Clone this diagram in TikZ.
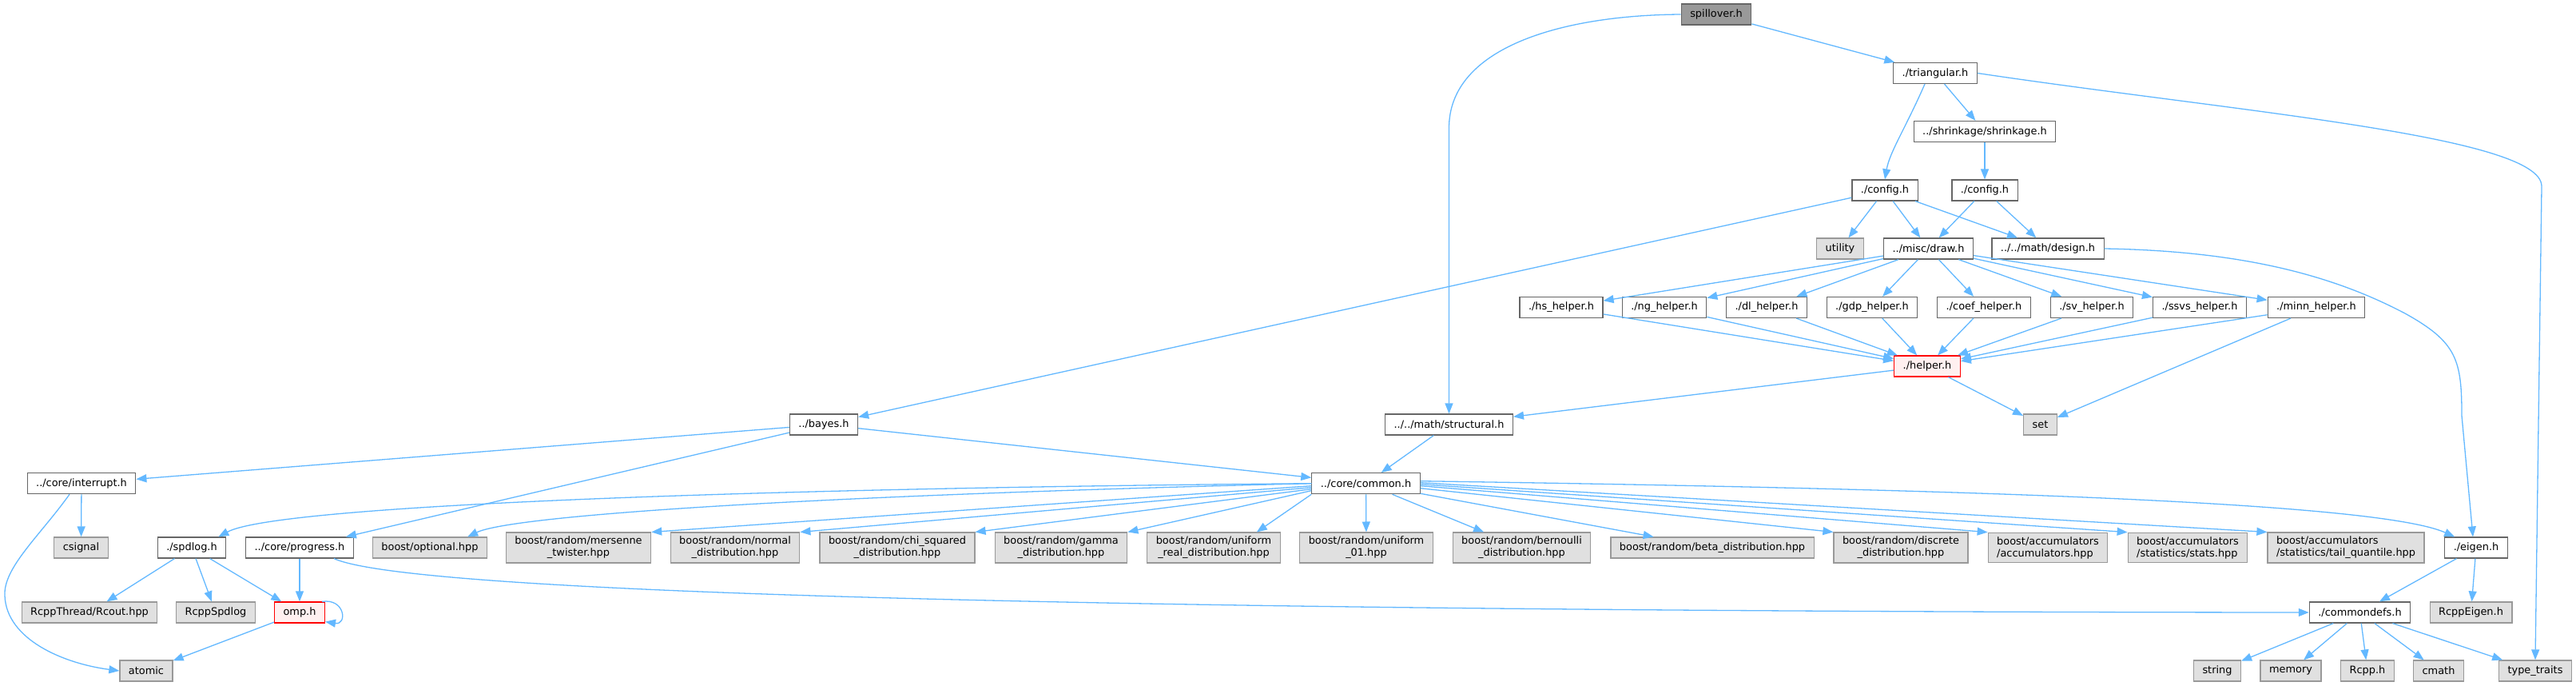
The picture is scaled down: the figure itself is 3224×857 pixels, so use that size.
\documentclass[tikz,border=0pt]{standalone}
\usepackage{fontspec}
\setmainfont{DejaVu Sans}
\usepackage{tikz}
\usetikzlibrary{arrows.meta}

\definecolor{edgeblue}{HTML}{63B8FF}
\definecolor{boxgray}{HTML}{666666}
\definecolor{extgray}{HTML}{999999}
\definecolor{extfill}{HTML}{E0E0E0}
\definecolor{rootgray}{HTML}{999999}
\definecolor{truncfill}{HTML}{FFF0F0}

\begin{document}
\begin{tikzpicture}[x=1pt, y=-1pt,
        file/.style  = {draw=boxgray, fill=white, line width=1.2pt, minimum height=26pt,
                        inner xsep=11pt, inner ysep=5pt, align=center,
                        font=\fontsize{12.9}{15}\selectfont},
        root/.style  = {file, fill=rootgray},
        ext/.style   = {file, draw=extgray, fill=extfill},
        trunc/.style = {file, draw=red, fill=truncfill},
        ar/.style    = {-{Triangle[length=13pt,width=10pt]}, line width=1.3pt, edgeblue},
    ]
        \useasboundingbox (0,0) rectangle (3224,857);

        % ---- upper part: spillover.h down to the helpers ----
        \node (spill)  [root]  at (2148,   18)   {spillover.h};
        \node (tri)    [file]  at (2422,   91.5) {./triangular.h};
        \node (shr)    [file]  at (2484,  164.5) {../shrinkage/shrinkage.h};
        \node (cfgA)   [file]  at (2359,  238)   {./config.h};
        \node (cfgB)   [file]  at (2484,  238)   {./config.h};
        \node (util)   [ext]   at (2303,  311)   {utility};
        \node (misc)   [file]  at (2413.5,311)   {../misc/draw.h};
        \node (design) [file]  at (2563,  311)   {../../math/design.h};

        \node (hs)     [file]  at (1954,  384.5) {./hs\_helper.h};
        \node (ng)     [file]  at (2083,  384.5) {./ng\_helper.h};
        \node (dl)     [file]  at (2211,  384.5) {./dl\_helper.h};
        \node (gdp)    [file]  at (2343,  384.5) {./gdp\_helper.h};
        \node (coef)   [file]  at (2483,  384.5) {./coef\_helper.h};
        \node (sv)     [file]  at (2618,  384.5) {./sv\_helper.h};
        \node (ssvs)   [file]  at (2753,  384.5) {./ssvs\_helper.h};
        \node (minn)   [file]  at (2899,  384.5) {./minn\_helper.h};

        \node (helper) [trunc] at (2412,  458)   {./helper.h};
        \node (bayes)  [file]  at (1031,  531)   {../bayes.h};
        \node (struct) [file]  at (1813.5,531)   {../../math/structural.h};
        \node (setn)   [ext]   at (2553.5,531)   {set};

        % ---- lower part: common.h and the headers it pulls in ----
        \node (intr)   [file]  at (102,   604.7) {../core/interrupt.h};
        \node (common) [file]  at (1709.5,604.7) {../core/common.h};

        \node (csig)   [ext]   at (101.5, 685)   {csignal};
        \node (spdlog) [file]  at (240,   685)   {./spdlog.h};
        \node (prog)   [file]  at (375,   685)   {../core/progress.h};
        \node (opt)    [ext]   at (538,   685)   {boost/optional.hpp};
        \node (mers)   [ext]   at (724,   685)   {boost/random/mersenne\\\_twister.hpp};
        \node (normal) [ext]   at (920,   685)   {boost/random/normal\\\_distribution.hpp};
        \node (chisq)  [ext]   at (1123,  685)   {boost/random/chi\_squared\\\_distribution.hpp};
        \node (gamma)  [ext]   at (1328,  685)   {boost/random/gamma\\\_distribution.hpp};
        \node (unirl)  [ext]   at (1519,  685)   {boost/random/uniform\\\_real\_distribution.hpp};
        \node (uni01)  [ext]   at (1710,  685)   {boost/random/uniform\\\_01.hpp};
        \node (bern)   [ext]   at (1904.5,685)   {boost/random/bernoulli\\\_distribution.hpp};
        \node (beta)   [ext]   at (2143,  685)   {boost/random/beta\_distribution.hpp};
        \node (discr)  [ext]   at (2379,  685)   {boost/random/discrete\\\_distribution.hpp};
        \node (acc)    [ext, align=left] at (2563, 685) {boost/accumulators\\/accumulators.hpp};
        \node (stats)  [ext, align=left] at (2738, 685) {boost/accumulators\\/statistics/stats.hpp};
        \node (tailq)  [ext, align=left] at (2936, 685) {boost/accumulators\\/statistics/tail\_quantile.hpp};
        \node (eigen)  [file]  at (3099,  685)   {./eigen.h};

        \node (rcout)  [ext]   at (112,   766)   {RcppThread/Rcout.hpp};
        \node (rspd)   [ext]   at (270,   766)   {RcppSpdlog};
        \node (omp)    [trunc] at (375,   766)   {omp.h};
        \node (cdefs)  [file]  at (2953.5,766)   {./commondefs.h};
        \node (reigen) [ext]   at (3092.5,766)   {RcppEigen.h};

        \node (atomic) [ext]   at (183,   839)   {atomic};
        \node (strg)   [ext]   at (2775,  839)   {string};
        \node (memo)   [ext]   at (2867,  839)   {memory};
        \node (rcpph)  [ext]   at (2963,  839)   {Rcpp.h};
        \node (cmath)  [ext]   at (3052,  839)   {cmath};
        \node (ttr)    [ext]   at (3173,  839)   {type\_traits};

        % ---- edges out of spillover.h / triangular.h ----
        \draw[ar] (spill) -- (tri);
        \draw[ar] (spill.west) .. controls (1953,19) and (1813.5,60) .. (1813.5,160) -- (struct);
        \draw[ar] ([xshift=-13pt]tri.south) .. controls (2385,160) and (2365,190) .. (cfgA.north);
        \draw[ar] (tri) -- (shr);
        \draw[ar] (tri.east) .. controls (2800,140) and (3181,170) .. (3181,233) -- (ttr.north);
        \draw[ar] (shr) -- (cfgB);

        % ---- config.h ----
        \draw[ar] (cfgA) -- (util);
        \draw[ar] (cfgA) -- (misc);
        \draw[ar] (cfgA) -- (design);
        \draw[ar] (cfgA) -- (bayes);
        \draw[ar] (cfgB) -- (misc);
        \draw[ar] (cfgB) -- (design);
        \draw[ar] (design.east) .. controls (2820,314) and (2930,350) .. (3010,392)
            .. controls (3075,428) and (3081,450) .. (3081,520) -- ([xshift=-4pt]eigen.north);

        % ---- draw.h -> helpers -> helper.h ----
        \draw[ar] (misc) -- (hs);
        \draw[ar] (misc) -- (ng);
        \draw[ar] (misc) -- (dl);
        \draw[ar] (misc) -- (gdp);
        \draw[ar] (misc) -- (coef);
        \draw[ar] (misc) -- (sv);
        \draw[ar] (misc) -- (ssvs);
        \draw[ar] (misc) -- (minn);
        \draw[ar] (hs) -- (helper);
        \draw[ar] (ng) -- (helper);
        \draw[ar] (dl) -- (helper);
        \draw[ar] (gdp) -- (helper);
        \draw[ar] (coef) -- (helper);
        \draw[ar] (sv) -- (helper);
        \draw[ar] (ssvs) -- (helper);
        \draw[ar] (minn) -- (helper);
        \draw[ar] (minn) -- (setn);
        \draw[ar] (helper) -- (setn);
        \draw[ar] (helper) -- (struct);
        \draw[ar] (struct) -- (common);

        % ---- bayes.h ----
        \draw[ar] (bayes) -- (intr);
        \draw[ar] (bayes) -- (prog);
        \draw[ar] (bayes) -- (common);

        % ---- interrupt.h / progress.h / spdlog.h / omp.h ----
        \draw[ar] (intr) -- (csig);
        \draw[ar] ([xshift=-15pt]intr.south) .. controls (50,670) and (4,710) .. (6,745)
            .. controls (8,800) and (80,830) .. (atomic.west);
        \draw[ar] (prog) -- (omp);
        \draw[ar] ([xshift=43pt]prog.south) .. controls (520,745) and (1500,765) .. (cdefs.west);
        \draw[ar] (spdlog) -- (rcout);
        \draw[ar] (spdlog) -- (rspd);
        \draw[ar] (spdlog) -- (omp);
        \draw[ar] ([xshift=-4pt]omp.north east) .. controls (432,748) and (435,782)
            .. ([yshift=2pt]omp.south east);
        \draw[ar] (omp) -- (atomic);

        % ---- common.h ----
        \draw[ar] (common.west) .. controls (1000,610) and (350,630) .. ([xshift=-10pt]spdlog.north east);
        \draw[ar] (common.west) .. controls (1000,620) and (640,645) .. ([xshift=-25pt]opt.north east);
        \draw[ar] ([yshift=-3pt]common.west) -- (mers.north east);
        \draw[ar] ([yshift=-5pt]common.west) -- (normal.north east);
        \draw[ar] ([yshift=-7pt]common.west) -- (chisq.north east);
        \draw[ar] ([yshift=-9pt]common.west) -- (gamma.north east);
        \draw[ar] (common.south west) -- ([xshift=-30pt]unirl.north east);
        \draw[ar] (common) -- (uni01);
        \draw[ar] (common) -- (bern);
        \draw[ar] (common) -- (beta);
        \draw[ar] ([yshift=-6pt]common.east) -- (discr.north west);
        \draw[ar] ([yshift=-3pt]common.east) -- (acc.north west);
        \draw[ar] ([yshift=-1pt]common.east) -- (stats.north west);
        \draw[ar] ([yshift=1pt]common.east) -- (tailq.north west);
        \draw[ar] ([yshift=3pt]common.east) .. controls (2500,612) and (2980,630) .. ([xshift=13pt]eigen.north west);

        % ---- eigen.h / commondefs.h ----
        \draw[ar] (eigen) -- (cdefs);
        \draw[ar] (eigen) -- (reigen);
        \draw[ar] (cdefs) -- (strg);
        \draw[ar] (cdefs) -- (memo);
        \draw[ar] (cdefs) -- (rcpph);
        \draw[ar] (cdefs) -- (cmath);
        \draw[ar] (cdefs) -- (ttr);
    \end{tikzpicture}
\end{document}
